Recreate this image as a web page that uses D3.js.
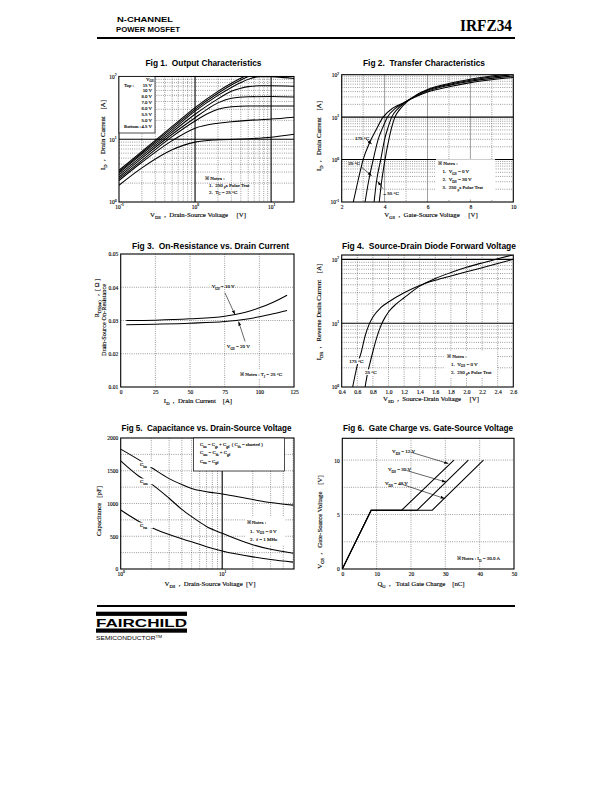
<!DOCTYPE html>
<html><head><meta charset="utf-8">
<script src="https://cdn.jsdelivr.net/npm/d3@7"></script>
<style>body{margin:0;background:#fff} svg{display:block}</style>
</head><body>
<script>
// ================= DATA =================
// Fig 1 – Output characteristics (VDS [V], ID [A])
const fig1Vgs = ["15 V","10 V","8.0 V","7.0 V","6.0 V","5.5 V","5.0 V","4.5 V"];
const id15V = [[0.1,3.2],[0.2,6.4],[0.5,16],[1,32],[2,58],[3,78],[4,94],[5,108]];
const id10V = [[0.1,3.05],[0.2,6.1],[0.5,15],[1,30],[2,54],[3,73],[4,88],[5,100],[6,110]];
const id8V  = [[0.1,2.9],[0.2,5.8],[0.5,14],[1,28],[2,50],[3,67],[4,80],[5,90],[7,99],[10,99],[15,96],[20,93]];
const id7V  = [[0.1,2.7],[0.2,5.4],[0.5,13],[1,25],[2,44],[3,58],[4,65],[5,69],[7,71],[10,71],[20,70]];
const id6V  = [[0.1,2.5],[0.2,5.0],[0.5,12],[1,22],[1.5,31],[2,38],[3,45],[5,47.5],[10,48],[20,47]];
const id55V = [[0.1,2.35],[0.2,4.6],[0.5,11],[1,19.5],[1.5,26],[2,30],[3,33],[5,34],[10,34],[20,34]];
const id5V  = [[0.1,2.2],[0.2,4.3],[0.5,9.5],[1,15],[2,18],[3,19],[5,20],[10,21],[20,22.5]];
const id45V = [[0.1,1.85],[0.2,3.5],[0.5,6.8],[1,9],[2,9.8],[5,10.2],[10,10.8],[20,12]];
const fig1XTicks = [0.1,1,10];
const fig1YTicks = [1,10,100];

// Fig 2 – Transfer characteristics (VGS [V], ID [A])
const tr175 = [[2.54,0.1],[2.75,0.3],[3.0,1],[3.3,2.5],[3.6,5],[3.93,10],[4.4,16.5],[4.9,22],[5.5,31],[6,39],[7,52],[8,65],[9,76],[10,86]];
const trA   = [[3.09,0.1],[3.25,0.3],[3.47,1],[3.7,3],[3.9,5.5],[4.13,10],[4.5,16],[4.9,22],[5.5,32],[6,41],[7,56],[8,70],[9,82],[10,93]];
const tr25  = [[3.51,0.1],[3.62,0.3],[3.82,1],[4.0,3],[4.15,5.5],[4.33,10],[4.6,15.5],[4.95,22],[5.5,33],[6,43],[7,59],[8,74],[9,88],[10,101]];
const trM55 = [[3.75,0.1],[3.86,0.3],[4.02,1],[4.2,3],[4.32,5.5],[4.48,10],[4.7,15],[5.0,22],[5.5,34],[6,45],[7,62],[8,78],[9,93],[10,108]];
const fig2XTicks = [2,4,6,8,10];
const fig2YTicks = [0.1,1,10,100];

// Fig 3 – On-resistance vs drain current (ID [A], RDS(on) [ohm])
const ron10V = [[4,0.0300],[25,0.0301],[50,0.0305],[75,0.0313],[90,0.0325],[100,0.0338],[110,0.0355],[120,0.0376]];
const ron20V = [[4,0.0287],[25,0.0289],[50,0.0292],[75,0.0297],[90,0.0304],[100,0.0311],[110,0.0320],[120,0.0330]];
const fig3XTicks = [0,25,50,75,100,125];
const fig3YTicks = [0.01,0.02,0.03,0.04,0.05];

// Fig 4 – Source-drain diode forward voltage (VSD [V], IDR [A])
const sd175 = [[0.54,1],[0.57,1.5],[0.6,2.2],[0.65,3.5],[0.7,6.3],[0.75,9.5],[0.8,12.5],[0.9,17.5],[1.0,21.5],[1.2,30],[1.4,39],[1.6,47],[1.8,55],[2.0,64],[2.2,74],[2.4,86],[2.6,100]];
const sd25  = [[0.70,1],[0.73,1.6],[0.76,2.3],[0.8,3.6],[0.85,6],[0.9,9],[0.95,12],[1.0,15],[1.1,20],[1.2,25],[1.4,38],[1.6,50],[1.8,62],[2.0,75],[2.2,88],[2.4,102],[2.6,118]];
const fig4XTicks = [0.4,0.6,0.8,1.0,1.2,1.4,1.6,1.8,2.0,2.2,2.4,2.6];
const fig4YTicks = [1,10,100];

// Fig 5 – Capacitance vs VDS (VDS [V], C [pF])
const cIss = [[1,1830],[1.5,1670],[2,1550],[3,1380],[4,1290],[5,1230],[7,1180],[10,1145],[20,1060],[30,1015],[50,975]];
const cOss = [[1,1650],[1.5,1420],[2,1300],[3,1080],[4,910],[5,800],[7,650],[10,545],[20,370],[30,300],[50,240]];
const cRss = [[1,900],[1.5,730],[2,635],[3,525],[4,460],[5,415],[7,340],[10,275],[20,185],[30,145],[50,105]];
const fig5XTicks = [1,10];
const fig5YTicks = [0,500,1000,1500,2000];

// Fig 6 – Gate charge (QG [nC], VGS [V])
const qg12V = [[0,0],[8.4,5.4],[17.3,5.4],[32.5,10]];
const qg30V = [[0,0],[8.4,5.4],[21.8,5.4],[36.7,10]];
const qg48V = [[0,0],[8.4,5.4],[26.2,5.4],[41.1,10]];
const fig6XTicks = [0,10,20,30,40,50];
const fig6YTicks = [0,5,10];

// ================= HELPERS =================
const SERIF = "'Liberation Serif','DejaVu Serif','Times New Roman',serif";
const SANS  = "'Liberation Sans','Arimo',Arial,sans-serif";
const svg = d3.select('body').append('svg').attr('width',612).attr('height',792);
const defs = svg.append('defs');
defs.append('marker').attr('id','arr').attr('viewBox','0 0 10 10').attr('refX',10).attr('refY',5)
  .attr('markerWidth',7).attr('markerHeight',7).attr('orient','auto')
  .append('path').attr('d','M0,1.5 L10,5 L0,8.5 z').attr('fill','#000');

function rich(t, parts){
  const fs = +t.attr('font-size') || 5.5;
  let cur = 0;
  parts.forEach(p=>{
    const [txt,kind] = Array.isArray(p) ? p : [p,null];
    const shift = kind==='sub' ? fs*0.35 : kind==='sup' ? -fs*0.45 : 0;
    const ts = t.append('tspan').text(txt);
    if (shift-cur !== 0) ts.attr('dy', shift-cur);
    if (kind) ts.attr('font-size', fs*0.68);
    cur = shift;
  });
  return t;
}
function label(g, x, y, parts, o={}){
  const t = g.append('text').attr('x',x).attr('y',y)
    .attr('font-family',o.ff||SERIF).attr('font-size',o.fs||5.5)
    .attr('text-anchor',o.anchor||'start').style('white-space','pre').attr('fill','#000');
  if (!o.ff) t.attr('stroke','#000').attr('stroke-width',0.14);
  if (o.weight) t.attr('font-weight',o.weight);
  if (o.rotate) t.attr('transform',`rotate(-90,${x},${y})`);
  if (o.len) t.attr('textLength',o.len).attr('lengthAdjust','spacingAndGlyphs');
  rich(t, parts);
  return t;
}
function styleLine(sel, kind){
  if (kind==='dot') sel.attr('stroke','#333').attr('stroke-width',0.6).attr('stroke-dasharray','0.8,1.4');
  else if (kind==='grey') sel.attr('stroke','#777').attr('stroke-width',0.7);
  else sel.attr('stroke','#000').attr('stroke-width',1.1);
}
function gridV(g, vals, sx, y0, y1, kind){
  g.selectAll(null).data(vals).enter().append('line')
    .attr('x1',d=>sx(d)).attr('x2',d=>sx(d)).attr('y1',y0).attr('y2',y1).call(styleLine,kind);
}
function gridH(g, vals, sy, x0, x1, kind){
  g.selectAll(null).data(vals).enter().append('line')
    .attr('y1',d=>sy(d)).attr('y2',d=>sy(d)).attr('x1',x0).attr('x2',x1).call(styleLine,kind);
}
function box(g, x0, y0, x1, y1, id){
  defs.append('clipPath').attr('id',id).append('rect').attr('x',x0).attr('y',y0).attr('width',x1-x0).attr('height',y1-y0);
}
function frame(g, x0, y0, x1, y1){
  g.append('rect').attr('x',x0).attr('y',y0).attr('width',x1-x0).attr('height',y1-y0)
    .attr('fill','none').attr('stroke','#000').attr('stroke-width',1.1);
}
function whiteBox(g, x0, y0, x1, y1, stroke){
  g.append('rect').attr('x',x0).attr('y',y0).attr('width',x1-x0).attr('height',y1-y0)
    .attr('fill','#fff').attr('stroke',stroke?'#000':'none').attr('stroke-width',0.7);
}
function curve(g, data, sx, sy, clip, type){
  g.append('path').datum(data)
    .attr('d', d3.line().x(d=>sx(d[0])).y(d=>sy(d[1])).curve(type||d3.curveMonotoneX))
    .attr('fill','none').attr('stroke','#000').attr('stroke-width',1.05).attr('clip-path',`url(#${clip})`);
}
function arrow(g, sx, sy, a, b){
  g.append('line').attr('x1',sx(a[0])).attr('y1',sy(a[1])).attr('x2',sx(b[0])).attr('y2',sy(b[1]))
    .attr('stroke','#000').attr('stroke-width',0.6).attr('marker-end','url(#arr)');
}
const logFmt = d => ['10',[String(Math.round(Math.log10(d))),'sup']];
const plainFmt = f => d => [f(d)];
function axisB(g, sx, y, vals, fmt){
  const a = g.append('g').attr('transform',`translate(0,${y})`)
    .call(d3.axisBottom(sx).tickValues(vals).tickSize(0).tickFormat(()=>''));
  a.select('.domain').remove();
  a.attr('font-family',SERIF).attr('font-size',5.5);
  a.selectAll('.tick text').attr('y',0).attr('dy','0.7em').attr('stroke','#000').attr('stroke-width',0.12)
    .each(function(d){ rich(d3.select(this), fmt(d)); });
}
function axisL(g, sy, x, vals, fmt){
  const a = g.append('g').attr('transform',`translate(${x},0)`)
    .call(d3.axisLeft(sy).tickValues(vals).tickSize(0).tickFormat(()=>''));
  a.select('.domain').remove();
  a.attr('font-family',SERIF).attr('font-size',5.5);
  a.selectAll('.tick text').attr('x',0).attr('dy','0.35em').attr('stroke','#000').attr('stroke-width',0.12)
    .each(function(d){ rich(d3.select(this), fmt(d)); });
}
function title(g, txt, cx, y, len){
  label(g, cx, y, [txt], {ff:SANS, fs:8.6, weight:'bold', anchor:'middle', len:len});
}
const range = (a,b,s)=>d3.range(a,b+s/2,s);
const logMinor = (lo,hi)=>{ const r=[]; for(let p=lo;p<hi;p++) for(let k=2;k<=9;k++) r.push(k*Math.pow(10,p)); return r; };
const AX = 6.8; // axis-title font size

// ================= HEADER / FOOTER =================
const hdr = svg.append('g');
label(hdr, 117, 22.3, ['N-CHANNEL'], {ff:SANS, fs:7, weight:'bold', len:56});
label(hdr, 116, 32.3, ['POWER MOSFET'], {ff:SANS, fs:7, weight:'bold', len:64});
label(hdr, 512, 30.5, ['IRFZ34'], {ff:SERIF, fs:17.5, weight:'bold', anchor:'end', len:52});
hdr.append('line').attr('x1',97).attr('x2',515).attr('y1',38).attr('y2',38).attr('stroke','#000').attr('stroke-width',2);
hdr.append('line').attr('x1',97).attr('x2',515).attr('y1',606).attr('y2',606).attr('stroke','#000').attr('stroke-width',2);
hdr.append('rect').attr('x',96).attr('y',611.7).attr('width',91).attr('height',4.2).attr('fill','#000');
label(hdr, 96, 627, ['FAIRCHILD'], {ff:SANS, fs:11, weight:'bold', len:91});
hdr.append('rect').attr('x',96).attr('y',628.5).attr('width',91).attr('height',4.2).attr('fill','#000');
label(hdr, 96, 640.2, ['SEMICONDUCTOR',['TM','sup']], {ff:SANS, fs:5.6, len:66});

// ================= FIG 1 =================
{
  const g = svg.append('g');
  const X0=119, X1=294, Y0=76.5, Y1=202;
  const sx = d3.scaleLog().domain([0.1,20]).range([X0,X1]);
  const sy = d3.scaleLog().domain([1,100]).range([Y1,Y0]);
  box(g,X0,Y0,X1,Y1,'c1');
  title(g,'Fig 1.  Output Characteristics',203.5,65.5,116);
  gridV(g, [0.2,0.3,0.4,0.5,0.6,0.7,0.8,0.9,2,3,4,5,6,7,8,9], sx, Y0, Y1, 'dot');
  gridH(g, logMinor(0,2), sy, X0, X1, 'dot');
  gridV(g, [1,10], sx, Y0, Y1, 'solid');
  gridH(g, [10], sy, X0, X1, 'solid');
  [id15V,id10V,id8V,id7V,id6V,id55V,id5V,id45V].forEach(d=>curve(g,d,sx,sy,'c1'));
  frame(g,X0,Y0,X1,Y1);
  whiteBox(g,X0,Y0,155,133,true);
  label(g,146,80.5,['V',['GS','sub']],{fs:4.8});
  label(g,124,86.5,['Top :'],{fs:4.8});
  label(g,124,128,['Bottom :'],{fs:4.8});
  fig1Vgs.forEach((v,i)=>label(g,152,86.5+i*5.93,[v],{fs:4.8,anchor:'end'}));
  label(g,205,179.5,['\u203B Notes :'],{fs:5});
  label(g,209,186.5,['1.  250 ',['\u03BC','sub'],'s Pulse Test'],{fs:5});
  label(g,209,193.5,['2.  T',['C','sub'],' = 25 \u00B0C'],{fs:5});
  axisB(g, sx, Y1+3, fig1XTicks, logFmt);
  axisL(g, sy, X0-2.5, fig1YTicks, logFmt);
  label(g,105,135,['I',['D','sub'],'  ,   Drain Current    [A]'],{fs:AX,anchor:'middle',rotate:true});
  label(g,198,217,['V',['DS','sub'],'  ,  Drain-Source Voltage     [V]'],{fs:AX,anchor:'middle'});
}

// ================= FIG 2 =================
{
  const g = svg.append('g');
  const X0=341.7, X1=513.3, Y0=74.7, Y1=202;
  const sx = d3.scaleLinear().domain([2,10]).range([X0,X1]);
  const sy = d3.scaleLog().domain([0.1,100]).range([Y1,Y0]);
  box(g,X0,Y0,X1,Y1,'c2');
  title(g,'Fig 2.  Transfer Characteristics',424,65.5,122);
  gridV(g, [3,5,7,9], sx, Y0, Y1, 'dot');
  gridH(g, logMinor(-1,2), sy, X0, X1, 'dot');
  gridV(g, [4,6,8], sx, Y0, Y1, 'grey');
  gridH(g, [1,10], sy, X0, X1, 'solid');
  whiteBox(g,436,159.2,495,199.5,false);
  [tr175,trA,tr25,trM55].forEach(d=>curve(g,d,sx,sy,'c2'));
  frame(g,X0,Y0,X1,Y1);
  label(g,sx(2.62),sy(2.93),['175 \u00B0C'],{fs:5});
  arrow(g,sx,sy,[3.18,2.85],[3.40,2.33]);
  label(g,sx(2.31),sy(0.754),['25 \u00B0C'],{fs:5});
  arrow(g,sx,sy,[2.90,0.676],[3.40,0.415]);
  label(g,sx(3.95),sy(0.144),['\u2013 55 \u00B0C'],{fs:5});
  arrow(g,sx,sy,[3.92,0.206],[3.68,0.306]);
  label(g,438,165.3,['\u203B Notes :'],{fs:5});
  label(g,442.5,173,['1.  V',['GS','sub'],' = 0 V'],{fs:5});
  label(g,442.5,181,['2.  V',['DS','sub'],' = 30 V'],{fs:5});
  label(g,442.5,189,['3.  250 ',['\u03BC','sub'],'s Pulse Test'],{fs:5});
  axisB(g, sx, Y1+3, fig2XTicks, plainFmt(d=>String(d)));
  axisL(g, sy, X0-2.5, fig2YTicks, logFmt);
  label(g,321,136,['I',['D','sub'],'  ,   Drain Current    [A]'],{fs:AX,anchor:'middle',rotate:true});
  label(g,431,217,['V',['GS','sub'],'  ,  Gate-Source Voltage     [V]'],{fs:AX,anchor:'middle'});
}

// ================= FIG 3 =================
{
  const g = svg.append('g');
  const X0=120.7, X1=294, Y0=254, Y1=387;
  const sx = d3.scaleLinear().domain([0,125]).range([X0,X1]);
  const sy = d3.scaleLinear().domain([0.01,0.05]).range([Y1,Y0]);
  box(g,X0,Y0,X1,Y1,'c3');
  title(g,'Fig 3.  On-Resistance vs. Drain Current',210.5,248.7,157);
  gridV(g, [25,50,75,100], sx, Y0, Y1, 'dot');
  gridH(g, [0.02,0.03,0.04], sy, X0, X1, 'dot');
  whiteBox(g,238,369.5,289,378,false);
  curve(g,ron10V,sx,sy,'c3');
  curve(g,ron20V,sx,sy,'c3');
  frame(g,X0,Y0,X1,Y1);
  label(g,sx(65.6),sy(0.0398),['V',['GS','sub'],' = 10 V'],{fs:5});
  arrow(g,sx,sy,[75.2,0.0383],[82.4,0.0318]);
  label(g,sx(76.5),sy(0.0217),['V',['GS','sub'],' = 20 V'],{fs:5});
  arrow(g,sx,sy,[89.7,0.0237],[85.0,0.0297]);
  label(g,240,376,['\u203B Notes : T',['J','sub'],' = 25 \u00B0C'],{fs:5});
  axisB(g, sx, Y1+3, fig3XTicks, plainFmt(d=>String(d)));
  axisL(g, sy, X0-2.5, fig3YTicks, plainFmt(d=>d.toFixed(2)));
  label(g,99,298,['R',['DS(on)','sub'],'   ,  [ \u03A9 ]'],{fs:6.3,anchor:'middle',rotate:true});
  label(g,105.5,320,['Drain-Source On-Resistance'],{fs:6.3,anchor:'middle',rotate:true});
  label(g,198,403,['I',['D','sub'],'  ,  Drain Current    [A]'],{fs:AX,anchor:'middle'});
}

// ================= FIG 4 =================
{
  const g = svg.append('g');
  const X0=341.7, X1=513.3, Y0=255, Y1=387;
  const sx = d3.scaleLinear().domain([0.4,2.6]).range([X0,X1]);
  const sy = d3.scaleLog().domain([1,117]).range([Y1,Y0]);
  box(g,X0,Y0,X1,Y1,'c4');
  title(g,'Fig 4.  Source-Drain Diode Forward Voltage',429,248.7,174);
  gridV(g, range(0.6,2.4,0.2), sx, Y0, Y1, 'dot');
  gridH(g, logMinor(0,2).filter(v=>v<117), sy, X0, X1, 'dot');
  gridH(g, [10,100], sy, X0, X1, 'solid');
  whiteBox(g,444,351,497,377,false);
  curve(g,sd175,sx,sy,'c4');
  curve(g,sd25,sx,sy,'c4');
  frame(g,X0,Y0,X1,Y1);
  whiteBox(g,sx(0.49),sy(2.38)-4.6,sx(0.665),sy(2.38)+1,false);
  label(g,sx(0.497),sy(2.38),['175 \u00B0C'],{fs:5});
  whiteBox(g,sx(0.692),sy(1.6)-4.6,sx(0.84),sy(1.6)+1,false);
  label(g,sx(0.699),sy(1.6),['25 \u00B0C'],{fs:5});
  label(g,447,357.5,['\u203B Notes :'],{fs:5});
  label(g,451,365.5,['1.  V',['GS','sub'],' = 0 V'],{fs:5});
  label(g,451,373.5,['2.  250 ',['\u03BC','sub'],'s Pulse Test'],{fs:5});
  axisB(g, sx, Y1+3, fig4XTicks, plainFmt(d=>d.toFixed(1)));
  axisL(g, sy, X0-2.5, fig4YTicks, logFmt);
  label(g,321,312,['I',['DR','sub'],'  ,   Reverse Drain Current    [A]'],{fs:AX,anchor:'middle',rotate:true});
  label(g,431,401,['V',['SD','sub'],'  ,  Source-Drain Voltage     [V]'],{fs:AX,anchor:'middle'});
}

// ================= FIG 5 =================
{
  const g = svg.append('g');
  const X0=120.7, X1=294, Y0=438, Y1=569;
  const sx = d3.scaleLog().domain([1,51]).range([X0,X1]);
  const sy = d3.scaleLinear().domain([0,2000]).range([Y1,Y0]);
  box(g,X0,Y0,X1,Y1,'c5');
  title(g,'Fig 5.  Capacitance vs. Drain-Source Voltage',206.5,430.7,170);
  gridV(g, [2,3,4,5,6,7,8,9,20,30,40,50], sx, Y0, Y1, 'dot');
  gridH(g, range(250,1750,250), sy, X0, X1, 'dot');
  gridV(g, [10], sx, Y0, Y1, 'solid');
  whiteBox(g,245,516.5,285,545,false);
  curve(g,cIss,sx,sy,'c5');
  curve(g,cOss,sx,sy,'c5');
  curve(g,cRss,sx,sy,'c5');
  frame(g,X0,Y0,X1,Y1);
  [['iss',1573],['oss',1313],['rss',641]].forEach(([s,c])=>{
    whiteBox(g,sx(1.52),sy(c)-4.5,sx(2.08),sy(c)+1.2,false);
    label(g,sx(1.55),sy(c),['C',[s,'sub']],{fs:5});
  });
  whiteBox(g,193.5,438,284.5,471,true);
  label(g,200,446,['C',['iss','sub'],' = C',['gs','sub'],' + C',['gd','sub'],'  ( C',['ds','sub'],' = shorted )'],{fs:4.8});
  label(g,200,454.3,['C',['oss','sub'],' = C',['ds','sub'],' + C',['gd','sub']],{fs:4.8});
  label(g,200,462.6,['C',['rss','sub'],' = C',['gd','sub']],{fs:4.8});
  label(g,246.5,524,['\u203B Notes :'],{fs:5});
  label(g,250,532.5,['1.  V',['GS','sub'],' = 0 V'],{fs:5});
  label(g,250,541,['2.  f = 1 MHz'],{fs:5});
  axisB(g, sx, Y1+3, fig5XTicks, logFmt);
  axisL(g, sy, X0-2.5, fig5YTicks, plainFmt(d=>String(d)));
  label(g,100.5,511,['Capacitance   [pF]'],{fs:AX,anchor:'middle',rotate:true});
  label(g,210,585.5,['V',['DS','sub'],'  ,  Drain-Source Voltage  [V]'],{fs:AX,anchor:'middle'});
}

// ================= FIG 6 =================
{
  const g = svg.append('g');
  const X0=342.3, X1=514, Y0=438.3, Y1=569;
  const sx = d3.scaleLinear().domain([0,50]).range([X0,X1]);
  const sy = d3.scaleLinear().domain([0,12]).range([Y1,Y0]);
  box(g,X0,Y0,X1,Y1,'c6');
  title(g,'Fig 6.  Gate Charge vs. Gate-Source Voltage',428,430.7,170);
  gridV(g, [10,20,30,40], sx, Y0, Y1, 'dot');
  gridH(g, [2.5,5,7.5,10], sy, X0, X1, 'dot');
  whiteBox(g,455,553.5,509,562,false);
  [qg12V,qg30V,qg48V].forEach(d=>curve(g,d,sx,sy,'c6',d3.curveLinear));
  frame(g,X0,Y0,X1,Y1);
  label(g,sx(14.5),sy(10.64),['V',['DS','sub'],' = 12 V'],{fs:5});
  arrow(g,sx,sy,[19.9,10.73],[30.9,9.68]);
  label(g,sx(13.3),sy(8.99),['V',['DS','sub'],' = 30 V'],{fs:5});
  arrow(g,sx,sy,[18.7,9.04],[30.2,7.98]);
  label(g,sx(12.4),sy(7.71),['V',['DS','sub'],' = 48 V'],{fs:5});
  arrow(g,sx,sy,[17.6,7.75],[29.8,6.47]);
  label(g,456.5,560,['\u203B Notes : I',['D','sub'],' = 30.0 A'],{fs:5});
  axisB(g, sx, Y1+3, fig6XTicks, plainFmt(d=>String(d)));
  axisL(g, sy, X0-2.5, fig6YTicks, plainFmt(d=>String(d)));
  label(g,322,522,['V',['GS','sub'],'  ,   Gate-Source Voltage    [V]'],{fs:AX,anchor:'middle',rotate:true});
  label(g,421,585.5,['Q',['G','sub'],'  ,   Total Gate Charge    [nC]'],{fs:AX,anchor:'middle'});
}
</script>
</body></html>
